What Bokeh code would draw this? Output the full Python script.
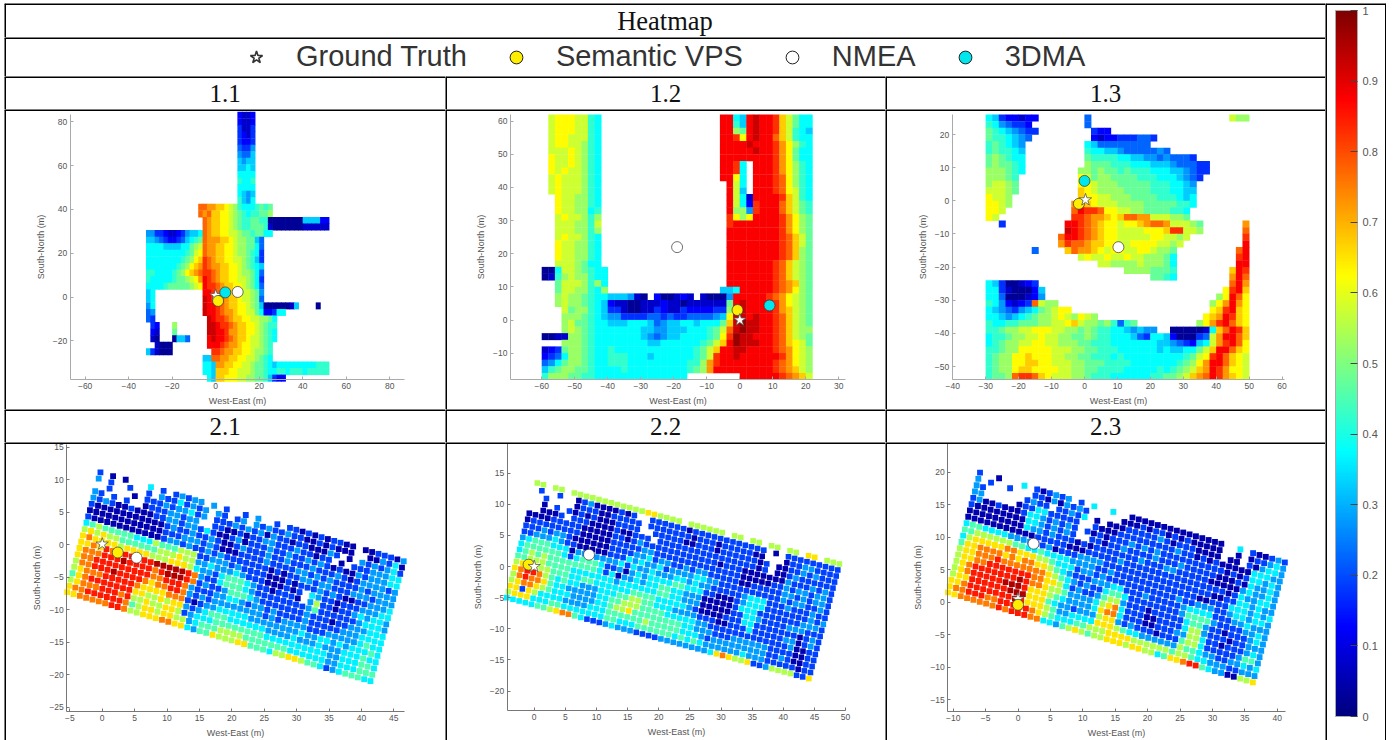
from bokeh.plotting import figure
from bokeh.layouts import row, column
from bokeh.models import (Range1d, LinearAxis, FixedTicker, Span, LinearColorMapper, ColorBar,
                          ColumnDataSource, Legend, LegendItem)
from bokeh.core.properties import value
from bokeh.embed import file_html
from bokeh.resources import INLINE

TITLE = "Heatmap"
LEGEND_LABELS = ["Ground Truth", "Semantic VPS", "NMEA", "3DMA"]
PANEL_TITLES = ["1.1", "1.2", "1.3", "2.1", "2.2", "2.3"]
COLORBAR_TICKS = [0, 0.1, 0.2, 0.3, 0.4, 0.5, 0.6, 0.7, 0.8, 0.9, 1]
D21 = "." * 21

# Panel 1.1: letters a..t are values in steps of 0.05; rows run from y=83 down in steps of 3
GRID_11 = [D21+"cbbc"+"."*17, D21+"cbbc"+"."*17, D21+"dbbd"+"."*17, D21+"dcbd"+"."*17, D21+"dccd"+"."*17,
 D21+"eddf"+"."*17, D21+"feeg"+"."*17, D21+"gfgg"+"."*17, D21+"gghg"+"."*17, D21+"hhhh"+"."*17,
 D21+"ihhi"+"."*17, D21+"hhhh"+"."*17, D21+"hgfg"+"."*17, D21+"igfh"+"."*17,
 "."*12+"ppoonnmlkihhhijij"+"."*13,
 "."*12+"popnnmmlkjihiijjk"+"."*13,
 "."*13+"ponnmmlkjiijji"+"i"+"aaaaaaaaggggcc",
 "."*13+"ponnmmlkjiijjj"+"i"+"baaaaaaabbbbbb",
 "ffddcbbcdfggh"+"ponnmmllkjjijj"+"h"+"h"+"."*13,
 "ggfedccdeghij"+"pooonnmlkkjj"+"ge"+"."*15,
 "hhhhgggghhjkl"+"poonnmmlkkjj"+"he"+"."*15,
 "hhhhhhhhhijlm"+"poonnmmlkkji"+"hd"+"."*15,
 "hhhhhhhhijkmn"+"qponnmmllkji"+"gd"+"."*15,
 "hhhhhhhijkmno"+"qpoonnmmlkji"+"hg"+"."*15,
 "iihhhhijkmnop"+"qqponnmmlkkj"+"he"+"."*15,
 "ihhhhhijjklmo"+"rqponnmmllkj"+"hd"+"."*15,
 "hhhhijjjjjklm"+"rqqponnmmlkj"+"he"+"."*15,
 "gh"+"."*11+"rrqponnmmllkj"+"f"+"."*15,
 "gh"+"."*11+"srqqponnmllkj"+"e"+"."*15,
 "fh"+"."*11+"srrqponnmmlkj"+"g"+"aaaaaabg"+"...."+"a"+"..",
 "ef"+"."*11+"srrqpoonmmllj"+"h"+"ccdhh"+"."*12,
 "ed"+"."*12+"srqqponnmmllkkjh"+"."*12,
 ".dc...k......."+"ssrqqponnmmlkjii"+"."*12,
 ".cb...j......."+"ssrrqoonnmmlkjih"+"."*12,
 ".ba...agge...."+"rsrrqponnmllkjih"+"."*12,
 "..baaa........"+"rrrqpoonmmllkji"+"."*13,
 "gdbaaa........"+".qqpoonnmmlkkji"+"."*13,
 "."*13+"ggppoonnmmllkjih"+"."*13,
 "."*13+"hhgoonnmmllkjjih"+"ghhhhhhhhhiii",
 "."*13+"hhgnnnmmlllkjjih"+"hiihiiihiiiii",
 "."*14+"hgnnmmmllkkjji"+"gdcc"+"."*10]

# Panel 1.2: rows run from y=61 down in steps of 2
M17 = "."*17
GRID_12 = [
 ".lmmmllih."+M17+"rrhgrsrrqnljhh", ".lmmmllih."+M17+"rrigrsrrqnljhh",
 ".lmmmllih."+M17+"rrkjrsrrqnlihg", ".lmmlllih."+M17+"rrqmrsrrpnlihh",
 ".lmmllkih."+M17+"rrrrsrrrqomkih", ".lllmlkih."+M17+"rrrrrsrrqomjhh",
 ".mllmlkih."+M17+"rrrrrrrrqomjhh", ".mllmlkih."+M17+"rrqh.rrrqomkih",
 ".mlmllkih."+M17+"rrqh.rrrqomkih", ".lmlllkih."+M17+"rrmh.rrrqpmkih",
 ".lmlllkih."+M17+".rlh.rrrqpmkih", ".lmlllkih."+M17+".rlg.rrrqpmlih",
 "..mllkkih."+M17+".rlhbrrrrqnlih", "..mllkkih."+M17+".rlhcqrrrpnlji",
 "..mllkkhi."+M17+".rkkfqrrrpnlji", "..lmllkik."+M17+".qmkmrrrrqomkj",
 "..lllkkil."+M17+".qrrrrrrrqomkj", "..lllkkik."+M17+".rrrrrrrrqomkj",
 "..lmllkih."+M17+".rrrrrrrrqpnlj", "..mllkkih."+M17+".rrrrrrrrqpnlj",
 "..mllkkih."+M17+".rrrrrrrrqpnkj", "..mllkkih."+M17+".rrrrrrrrqpnkj",
 "..lllkjhh."+M17+".rrrrrrrqpnlkj", "aahllkjihh"+M17+".rrrrrrrqpnlkj",
 "abiklkkihh"+M17+".rrrrrrrqpnlkj", "..jlllkikh"+M17+".rrrrrrrqponkj",
 "..jllkkihk"+"."*17+"ggh"+"rrrrrqpomkj",
 "..klkkjihh"+"gggfba.caabcb.baaaf"+"rrrrrqpomlkj",
 "..klkkjihg"+"cbbaabbbcbbabbbbbbj"+"rsrrrrqomlkj",
 "...ljkkihg"+"ddbaabbdcbbdccccddk"+"rsrrrrqonlkj",
 "...kkkjihg"+"ffddddeededdeeeefgm"+"ssrsrrqpnlkj",
 "...kljjihh"+"ggghhhgefgghhghhhjn"+"stssrrqpnlkj",
 "...klkjihh"+"hhhhhggffggghhhijlp"+"stssrrqpnlkk",
 "aabbkkjihh"+"hhhhhgfefgghhhhijmq"+"tssrrrqpnlkj",
 "...kkkjihh"+"hhhhhhgghhhhhhijlnr"+"tsssrrqpnmlj",
 "bcdjkkjihh"+"ihhhhhhhhhhhhijlnrr"+"ssrrrrqpomlk",
 "cdehkkjihh"+"iiihhhghhhhhhijlqrr"+"srrrrrrqomlk",
 "efhjkkjihh"+"iiihhhhhhhhhiikoqrr"+"rrrrrrqpomlk",
 "gijkkjjihh"+"hhihhhhhhhhhijkorrr"+"rrrrrrqponlk",
 "ikkkjjiihh"+"hhhhhhhhhhhh......."+".rrrrrrqponl"]

# Panel 1.3: rows run from y=25 down in steps of 2
GRID_13 = [
 "hgdccbcc"+"."*7+"e"+"."*21+"lkk",
 "ihfeddc."+"."*7+"e"+"."*24,
 "jihgfedd"+"."*8+"dcc"+"."*21,
 "jiihgfe."+"."*8+"cbccdddeed"+"."*14,
 "ijihgf.."+"."*7+"hgeeeeeeee"+"."*15,
 "ijiihg.."+"."*7+"ihhggfeeeeefe"+"."*12,
 "jkjihh.."+"."*7+"jiiiihhggffefeeed"+"."*8,
 "jkjjih.."+"."*7+"kjjjiiihhhgggfeeedd"+"."*6,
 "kkkjih.."+"."*6+"kkjkjjijiiihhhggfedd"+"."*6,
 "kkkji..."+"."*6+"mljkkjjjjiiihhhgfed."+"."*6,
 "kllkj..."+"."*6+"mmlkkkjjjjjiiihhgf.."+"."*6,
 "lllkj..."+"."*6+"nmlkkkkjjjjiiihhgg.."+"."*6,
 "mllk...."+"."*6+"nmmllkkkjjjjiiihgh.."+"."*6,
 "mmlk...."+"."*5+"opnmlllkkkkjjjjjiih.."+"."*6,
 "mml....."+"."*5+"prqqpmmllkkjjjjiih.."+"."*7,
 "ml......"+"."*5+"qqpoonmnppoolllkkj.."+"."*7,
 "..d....."+"."*4+"rrqponmmlmmnoppolllkj"+"."*6+"o",
 "."*8+"."*4+"srqponmmllllmmmnqqllk"+"."*6+"p",
 "."*8+"."*3+"prrqponmmlllllmmllkl."+"."*7+"q",
 "."*8+"."*3+"oqpponnmmllmmmmllkl"+"."*9+"r",
 ".......e"+"."*4+"npoonmlmmllmmlkkj"+"."*9+"pr",
 "."*8+"."*6+"lmllmllmllkkkjh"+"."*9+"qr",
 "."*8+"."*9+"llkkkklkkkjh"+"."*9+"rr",
 "."*8+"."*13+"kkkkjjji"+"."*8+"nrq",
 "."*8+"."*17+"jjih"+"."*8+"orp",
 "hgdaabcd"+"."*29+"pro",
 "hhdbaaacg"+"."*27+"mqrn",
 "hheaaabcf"+"."*26+"kmrpm",
 "ihfcbcdplk"+"k"+"."*23+"kmorom",
 "hgfedfghjklmm"+"."*21+"mnqrnm",
 "hhgfghijkklmlkmlk"+"."*16+"mnorqnm",
 "ihhiijjjkkllmnlkkjkieij"+"."*9+"kmoqrpnm",
 "iijkkllmmmllkkjkjiihhgfgff"+".."+"aaaa"+"a"+"b"+"h"+"nprqn",
 "hiijkkllmllkkjjkjiihhhgedh"+"hg"+"caaa"+"de"+"lorrpn",
 "hijkkllmmllkkkjjiiihhhhhhhgg"+"fedc"+"gh"+"loqrpm",
 "iijkkmmmmmlllkkjjiiihhhhhhgh"+"gghh"+"jl"+"nrrpnm",
 "ijkkmmnmmmllkkjjiiihihhhhhhh"+"hhij"+"lm"+"qrpnml",
 "ijkkmmnnmmlllkkjjjiiiihhhhhh"+"hijk"+"mo"+"rrpnml",
 "ijkkmnnmmmmllkkjjiiiihhhhhih"+"ijkl"+"no"+"rqomml",
 "ijjkpqqpnmlllkkjiiihhhhhhiij"+"jkln"+"op"+"rqonml"]

# Panels 2.x: digits index DIGIT_VALUES; rows run from the far long edge (top) to the near one
DIGIT_VALUES = [0.05, 0.19, 0.28, 0.36, 0.45, 0.55, 0.65, 0.75, 0.85, 0.95]
GRID_21 = [
 "1.0.0.. .3.1.12 122.2.1 ..1.2.. 1.11010 101100. 0011102",
 "2.1..1. .1.2113 1212.21 .12.212 1121100 101000. .002130",
 "..1...0 .111212 2312.11 1212120 2110110 0021.0. 2121231",
 "21.1.1. .011122 122..11 0010112 2111211 011.0.1 1122233",
 "2121001 0001122 1221310 0120111 2112112 1210100 2122233",
 "1000000 0000012 1121121 0012111 2112111 2111210 1222212",
 "0000000 0000011 1222121 0001111 2111122 1212111 1212222",
 "1000000 0000012 2121121 2111111 1010112 2122111 2221222",
 "3454444 4333544 4555112 2212111 1000101 1121210 0112223",
 "5656554 4444455 5655223 2223211 1000101 .321101 1122233",
 "6766665 6666555 6665322 1344432 1101110 .251101 1232332",
 "6676878 8888899 9998721 1344432 1111111 1241111 1123332",
 "6777888 9888878 9998712 1124443 2111111 1211101 1222333",
 "6778888 8888877 8887211 1223321 2212111 1211111 2223333",
 "5778889 8888767 7887212 1222222 2212122 2211122 2223433",
 "5677788 8887666 6777101 2233333 2222222 2322332 3233343",
 "4678888 8886655 6566212 3444333 3332222 3222322 2333433",
 "5677788 8785565 5665123 3344444 4443333 3333332 2333443",
 "6778888 8874566 5665523 4445555 4444444 3333332 2333444",
 "6677777 8875566 6776632 4465556 6444355 6654431 2344433"]
GRID_22 = [
 "55.55.5 5555555 5555665 555.555 555.55. 55.55.5 5.66.55 5",
 ".1..1.. 0120000 101..11 1111011 1111111 111.0.1 1111111 1",
 "..1.... 0111001 1111.11 1111101 1101111 100...0 1122111 1",
 "..0.1.1 0101000 1111..1 1111001 1101111 1101.00 1121211 1",
 "..0001. 1110000 100111. 1111111 1111111 1101.00 1211111 1",
 "0000111 1100000 1101211 1111111 1110111 0000000 2111212 1",
 "0111111 1100000 1111122 1111111 1111111 0000011 2122122 1",
 "1112122 1000000 1111223 1221121 2211111 0011111 2212122 1",
 "1122232 1100000 1113232 2312222 3322111 1111111 2122112 1",
 "2344433 3022222 2231322 3222332 3221111 1233311 1211121 1",
 "3444444 3134443 1120232 3333443 3311000 1233311 1111121 2",
 "3454544 4444443 1302232 3344332 2200000 1333111 1111222 1",
 "4455544 4433333 3323333 3344332 2200000 1133211 1122211 1",
 "5666554 4433443 3333344 4433333 2100001 1133111 1111012 1",
 "6788754 3433222 3334455 4433322 2211100 1113111 1122012 1",
 "5787764 3322222 3344555 4444333 3322111 1111111 1112001 1",
 "5677654 3332222 3345564 4444444 3322211 1222222 1111001 1",
 "6616533 3322223 3344444 4544444 3332122 2222222 1121001 1",
 "5666333 4433333 3344333 4444443 4343222 2223222 1111101 1",
 "3333344 5677431 1123222 1111222 2222236 7655611 2555511 6"]
GRID_23 = [
 "1..0... 3.10121 2.1.3.. 3..0000 0000000 0000..3 .100121",
 "2.1..1. ..11020 2121... ..00010 1101010 0000..0 .011232",
 "21..... .1211.1 1213.0. 0001111 1210111 0000.00 .102332",
 "22..... 0113311 111..10 0011111 1111211 0101000 0033322",
 "1200100 0133212 121.101 0111212 1211111 1111101 0133232",
 "1000000 0033212 121..11 0112111 1211121 1111000 1032232",
 "0000000 0032212 1110101 1111112 1112211 1110000 0232232",
 "0000000 0000111 1100011 1112111 1111111 1111110 1322332",
 "3443333 2222112 0111222 2111111 1111111 1111001 1332322",
 "4455555 5443343 3332222 1121111 1111111 1100111 3332323",
 "3566666 7766655 4333122 1211111 1111112 1122211 2332332",
 "4667777 6767766 5432111 2223311 1211111 2333311 1223222",
 "5667778 7777777 6543212 1134431 1111111 2444421 1112232",
 "5667788 8888877 6653121 1245521 1101111 1344211 0111232",
 "5678888 8889877 6554222 2356731 1100111 1355211 1011222",
 "5678888 8999866 6543222 2367731 1100111 2255311 0111232",
 "5668888 8899966 6432212 2256621 2111011 1455311 1112442",
 "6678888 8889866 6542233 3366654 3322222 2544322 1122323",
 "6778887 7888887 6543334 4555666 6555555 4554332 2211222",
 "6677777 7878887 7332456 5455666 5665534 6678843 2200556"]

# Marker positions (x, y); None where the marker is not visible
GT = [(0, 0.7), (0, 0), (0.3, 0.3), (0, 0.1), (0, 0), (0, 0.5)]
VPS = [(1.1, -1.8), (-0.7, 3), (-1.7, -0.9), (2.4, -1.2), (-0.9, 0.3), (0, -0.4)]
NMEA = [(10.1, 2.3), (-19, 22), (10.3, -14), (5.3, -2), (8.8, 1.9), (2.4, 9)]
DMA = [(4.4, 2.1), (9, 4.4), (0, 6), None, None, None]
STAR_ON_TOP = [False, True, True, True, True, False]

X_TICKS = [list(range(-60, 81, 20)), list(range(-60, 31, 10)), list(range(-40, 61, 10)),
           list(range(-5, 46, 5)), list(range(0, 51, 5)), list(range(-10, 41, 5))]
Y_TICKS = [list(range(-20, 81, 20)), list(range(-10, 61, 10)), list(range(-50, 21, 10)),
           list(range(-25, 16, 5)), list(range(-20, 16, 5)), list(range(-15, 21, 5))]

def jet(v):
    c = lambda a: max(0, min(1, a))
    return "#%02x%02x%02x" % (int(255 * c(min(4 * v - 1.5, -4 * v + 4.5))),
                              int(255 * c(min(4 * v - 0.5, -4 * v + 3.5))),
                              int(255 * c(min(4 * v + 0.5, -4 * v + 2.5))))

mapper = LinearColorMapper(palette=[jet(i / 255) for i in range(256)], low=0, high=1)

# layout (screen pixels of the table)
COL_X = [4, 445, 885, 1325]
ROW_Y = [3, 37, 76, 109, 409, 442, 740]
RULE = 3   # half of it falls outside the canvas

def borders(p, sides):
    xr, yr = p.x_range, p.y_range
    for s in sides:
        if s in "lr":
            p.add_layout(Span(location=xr.start if s == "l" else xr.end, dimension="height",
                              line_color="black", line_alpha=1, line_width=RULE))
        else:
            p.add_layout(Span(location=yr.end if s == "t" else yr.start, dimension="width",
                              line_color="black", line_alpha=1, line_width=RULE))

def blank(w, h, xr=(0, 1), yr=(0, 1)):
    return figure(width=w, height=h, x_range=Range1d(*xr), y_range=Range1d(*yr), x_axis_type=None,
                  y_axis_type=None, toolbar_location=None, output_backend="svg", min_border=0,
                  outline_line_color=None, background_fill_color="white")

def title_cell(text, w, h, size):
    p = blank(w, h)
    p.text(x=[0.5], y=[0.5], text=[text], text_font=value("Liberation Serif"), text_font_size=size,
           text_align="center", text_baseline="middle", text_color="#111111")
    borders(p, "lt")
    return p

def add_markers(p, idx):
    def star():
        p.scatter([GT[idx][0]], [GT[idx][1]], marker="star", size=13, fill_color="white",
                  line_color="#555555", line_width=0.8)
    if not STAR_ON_TOP[idx]:
        star()
    for pts, col in ((NMEA, "white"), (DMA, "#00e6ee"), (VPS, "#ffee00")):
        if pts[idx] is not None:
            p.scatter([pts[idx][0]], [pts[idx][1]], marker="circle", size=11, fill_color=col,
                      line_color="#333333", line_width=0.7)
    if STAR_ON_TOP[idx]:
        star()

def panel(idx, cell, scale, spine, spine_color):
    L, T, W, H = cell
    x0, sx, y0, sy = scale
    left, right, top, bottom = spine
    p = blank(W, H, ((L - x0) / sx, (L + W - x0) / sx), ((y0 - T - H) / sy, (y0 - T) / sy))
    b = LinearAxis(fixed_location=(y0 - bottom) / sy, bounds=((left - x0) / sx, (right - x0) / sx),
                   ticker=FixedTicker(ticks=X_TICKS[idx]), axis_label="West-East (m)")
    l = LinearAxis(fixed_location=(left - x0) / sx, bounds=((y0 - bottom) / sy, (y0 - top) / sy),
                   ticker=FixedTicker(ticks=Y_TICKS[idx]), axis_label="South-North (m)")
    for a in (b, l):
        a.major_label_text_font = "Liberation Sans"
        a.major_label_text_font_size = "8.5px"
        a.major_label_text_color = "#555555"
        a.axis_label_text_font = "Liberation Sans"
        a.axis_label_text_font_size = "9px"
        a.axis_label_text_font_style = "normal"
        a.axis_label_text_color = "#555555"
        a.axis_line_color = spine_color
        a.major_tick_line_color = spine_color
        a.major_tick_in = 3
        a.major_tick_out = 0
        a.minor_tick_line_color = None
        a.major_label_standoff = 3
        a.axis_label_standoff = 4
    p.add_layout(b, "below")
    p.add_layout(l, "left")
    return p

def square_grid(p, rows, xs, ys, dx, dy):
    """rows of letters on an axis-aligned grid"""
    X, Y, V = [], [], []
    for r, s in enumerate(rows):
        for k, ch in enumerate(s):
            if ch != ".":
                X.append(xs + k * dx)
                Y.append(ys - r * dy)
                V.append((ord(ch) - 97 + 0.5) / 20)
    src = ColumnDataSource(dict(x=X, y=Y, v=V))
    p.rect("x", "y", width=dx * 1.03, height=dy * 1.03, source=src, dilate=True,
           fill_color={"field": "v", "transform": mapper}, line_color=None)

def rotated_grid(p, rows, origin, u, v):
    """rows of digits on a grid tilted along vectors u and v"""
    X, Y, V = [], [], []
    n = len(rows)
    for r, s in enumerate(rows):
        j = n - 1 - r
        for i, ch in enumerate(s.replace(" ", "")):
            if ch != ".":
                X.append(origin[0] + i * u[0] + j * v[0])
                Y.append(origin[1] + i * u[1] + j * v[1])
                V.append(DIGIT_VALUES[int(ch)])
    src = ColumnDataSource(dict(x=X, y=Y, v=V))
    p.rect("x", "y", width=0.9, height=0.9, source=src,
           fill_color={"field": "v", "transform": mapper}, line_color=None)

W1, W2, W3 = COL_X[1] - COL_X[0], COL_X[2] - COL_X[1], COL_X[3] - COL_X[2]
H = [ROW_Y[i + 1] - ROW_Y[i] for i in range(6)]

p11 = panel(0, (COL_X[0], ROW_Y[3], W1, H[3]), (215.2, 2.176, 296.5, 2.19), (69.7, 404, 114, 379), "#aaaaaa")
square_grid(p11, GRID_11, -31, 83, 2, 3)
p12 = panel(1, (COL_X[1], ROW_Y[3], W2, H[3]), (739.3, 3.3, 319.5, 3.313), (510, 845, 114, 379.3), "#aaaaaa")
square_grid(p12, GRID_12, -59, 61, 2, 2)
p13 = panel(2, (COL_X[2], ROW_Y[3], W3, H[3]), (1084, 3.293, 200.3, 3.314), (951.7, 1284, 114.3, 379), "#aaaaaa")
square_grid(p13, GRID_13, -29, 25, 2, 2)
p21 = panel(3, (COL_X[0], ROW_Y[5], W1, H[5]), (101.7, 6.48, 544.2, 6.5), (66.3, 404.3, 444.3, 711), "#777777")
rotated_grid(p21, GRID_21, (-5.4, -7.3), (0.975, -0.285), (0.27, 0.97))
p22 = panel(4, (COL_X[1], ROW_Y[5], W2, H[5]), (533.7, 6.227, 566, 6.23), (506.7, 845, 443, 710), "#777777")
rotated_grid(p22, GRID_22, (-4.4, -5), (0.99, -0.265), (0.258, 0.968))
p23 = panel(5, (COL_X[2], ROW_Y[5], W3, H[5]), (1017.5, 6.48, 601.7, 6.503), (947.3, 1285, 443.3, 711), "#777777")
rotated_grid(p23, GRID_23, (-10.8, 1.5), (0.98, -0.288), (0.26, 0.97))

for i, pp in enumerate([p11, p12, p13, p21, p22, p23]):
    add_markers(pp, i)
    borders(pp, "lt")

# header cells
WT = COL_X[3] - COL_X[0]
head = title_cell(TITLE, WT, H[0], "26.5px")

leg = blank(WT, H[1])
nan = float("nan")
r_gt = leg.scatter([nan], [nan], marker="star", fill_color="white", line_color="#333333", line_width=1.6)
r_vps = leg.scatter([nan], [nan], marker="circle", fill_color="#ffee00", line_color="#222222", line_width=1)
r_nmea = leg.scatter([nan], [nan], marker="circle", fill_color="white", line_color="#222222", line_width=1)
r_dma = leg.scatter([nan], [nan], marker="circle", fill_color="#00e6ee", line_color="#222222", line_width=1)
legend = Legend(items=[LegendItem(label=value(t), renderers=[r]) for t, r in
                       zip(LEGEND_LABELS, [r_gt, r_vps, r_nmea, r_dma])],
                orientation="horizontal", location=(236, 3), padding=0, margin=0, spacing=33,
                glyph_width=32, glyph_height=32, label_standoff=24, label_text_font="Liberation Sans",
                label_text_font_size="29px", label_text_color="#333333", border_line_color=None,
                background_fill_color=None, background_fill_alpha=0)
leg.add_layout(legend, "center")
borders(leg, "lt")

t11 = title_cell(PANEL_TITLES[0], W1, H[2], "25px")
t12 = title_cell(PANEL_TITLES[1], W2, H[2], "25px")
t13 = title_cell(PANEL_TITLES[2], W3, H[2], "25px")
t21 = title_cell(PANEL_TITLES[3], W1, H[4], "25px")
t22 = title_cell(PANEL_TITLES[4], W2, H[4], "25px")
t23 = title_cell(PANEL_TITLES[5], W3, H[4], "25px")

# colorbar cell
cb = blank(61, ROW_Y[-1] - ROW_Y[0])
cbar = ColorBar(color_mapper=mapper, ticker=FixedTicker(ticks=COLORBAR_TICKS),
                major_label_overrides={t: str(t) for t in COLORBAR_TICKS},
                width=22, height=706, location=(10, 24), padding=0, margin=0,
                major_tick_in=7, major_tick_out=0, major_tick_line_color="#444444",
                minor_tick_line_color=None, bar_line_color="#aaaaaa", label_standoff=5,
                major_label_text_font="Liberation Sans", major_label_text_font_size="11px",
                major_label_text_color="#555555", background_fill_alpha=0)
cb.add_layout(cbar, "center")
cb.scatter([nan], [nan], size=1)
borders(cb, "lrt")

left = column([head, leg, row([t11, t12, t13], spacing=0), row([p11, p12, p13], spacing=0),
               row([t21, t22, t23], spacing=0), row([p21, p22, p23], spacing=0)], spacing=0)
root = row([left, cb], spacing=0, margin=(3, 0, 0, 4))

open("out.html", "w").write(file_html(root, INLINE))
